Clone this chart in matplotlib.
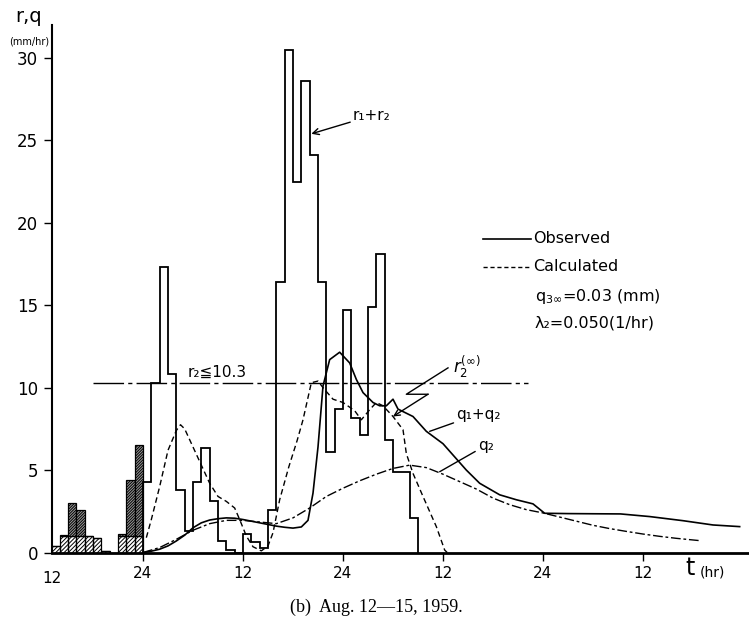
import numpy as np
import matplotlib
matplotlib.use("Agg")
import matplotlib.pyplot as plt
from matplotlib.lines import Line2D

plt.rcParams['hatch.linewidth'] = 0.7
plt.rcParams['font.family'] = ['DejaVu Sans', 'Noto Sans CJK JP']

# time axis: hours counted from Aug 12, 00:00
pre_rain_start = [13, 14, 15, 16, 17, 18, 19, 20, 21, 22, 23]
pre_rain = [0.4, 1.05, 3.0, 2.6, 1.0, 0.9, 0.1, 0.0, 1.1, 4.4, 6.5]
loss_level = 1.0

rain_edges = list(range(24, 58))
rain = [4.3, 10.3, 17.3, 10.8, 3.8, 1.3, 4.25, 6.35, 3.1, 0.7, 0.15, 0.0,
        1.1, 0.65, 0.3, 2.6, 16.4, 30.5, 22.5, 28.6, 24.1, 16.4, 6.1, 8.7,
        14.7, 8.15, 7.1, 14.9, 18.1, 6.8, 4.9, 4.9, 2.1]

calc_total_t = [24.4, 25, 26, 27, 28, 28.5, 29, 30, 31, 32, 33, 34, 35, 35.6, 36.4,
                37.2, 38.2, 39.0, 39.6, 40.4, 41.5, 42.5, 43.2, 44.2, 45.0, 45.6,
                46.8, 48.0, 49.4, 50.2, 51.2, 52.0, 52.8, 54.0, 55.2, 55.6, 56.4,
                57.6, 59.2, 60.2, 60.5]
calc_total = [0.9, 2.0, 4.0, 6.2, 7.4, 7.75, 7.5, 6.4, 5.3, 4.2, 3.4, 3.1, 2.7, 2.0, 1.0,
              0.35, 0.1, 0.4, 1.2, 3.2, 5.2, 6.8, 8.05, 10.3, 10.4, 10.0,
              9.3, 9.1, 8.6, 8.05, 8.66, 9.1, 8.9, 8.25, 7.45, 6.0, 4.8,
              3.4, 1.57, 0.15, 0.0]

obs_total_t = [24, 25, 26, 27, 28, 29, 30, 31, 32, 33, 34, 35, 36, 37, 38, 39, 40,
               41, 42, 43, 43.8, 44.4, 45.0, 45.6, 46.4, 47.6, 48.8, 49.6, 50.4,
               51.6, 52.4, 53.2, 54.0, 54.6, 56.4, 58.0, 60.0, 62.8, 64.4, 66.8,
               68.8, 70.8, 72.2, 75.0, 78.0, 81.3, 84.8, 88.8, 92.4, 95.6]
obs_total = [0.0, 0.08, 0.2, 0.4, 0.7, 1.05, 1.5, 1.8, 1.97, 2.05, 2.1, 2.08, 2.0,
             1.9, 1.8, 1.7, 1.6, 1.53, 1.48, 1.55, 1.95, 3.6, 6.4, 10.1, 11.7,
             12.15, 11.5, 10.5, 9.7, 9.1, 8.9, 8.9, 9.3, 8.7, 8.25, 7.35, 6.6,
             5.0, 4.2, 3.5, 3.2, 2.95, 2.38, 2.36, 2.35, 2.34, 2.18, 1.93, 1.67, 1.57]

calc_q2_t = [24, 26, 28, 30, 32, 34, 36, 38, 40, 42, 44, 46, 48, 50, 52, 54, 56,
             58, 60, 62, 64, 66, 68, 70, 72, 74, 76, 78, 80, 82, 84, 86, 88, 90.8]
calc_q2 = [0.0, 0.3, 0.8, 1.35, 1.75, 1.95, 1.95, 1.85, 1.75, 2.1, 2.7, 3.4, 3.9,
           4.35, 4.75, 5.1, 5.3, 5.15, 4.75, 4.3, 3.85, 3.3, 2.9, 2.6, 2.4, 2.15,
           1.9, 1.65, 1.45, 1.28, 1.12, 0.98, 0.86, 0.72]

r2_limit = 10.3
r2_line_t = [18.0, 70.2]

xtick_hours = [24, 36, 48, 60, 72, 84]
xtick_labels = [str((h - 1) % 24 + 1) for h in xtick_hours]
ytick_vals = [0, 5, 10, 15, 20, 25, 30]

W, H = 749, 623
fig = plt.figure(figsize=(W / 100, H / 100), dpi=100)
ax = fig.add_axes([52 / W, (H - 552.5) / H, (W - 52) / W, (552.5 - 25) / H])
ax.set_xlim(13.08, 96.72)
ax.set_ylim(0, 32)
for s in ['top', 'right']:
    ax.spines[s].set_visible(False)
ax.spines['left'].set_linewidth(1.5)
ax.spines['bottom'].set_linewidth(2.0)

# hatched early rainfall
lower = [min(v, loss_level) for v in pre_rain]
upper = [max(v - loss_level, 0) for v in pre_rain]
ax.bar(pre_rain_start, lower, width=1, align='edge', fill=False, hatch='////////',
       edgecolor='black', linewidth=0.9)
ax.bar(pre_rain_start, upper, bottom=lower, width=1, align='edge', facecolor='#9a9a9a',
       hatch='////////////', edgecolor='black', linewidth=0.9)

# r1 + r2 histogram
ax.stairs(rain, rain_edges, baseline=0, color='black', linewidth=1.3)

# curves
ax.plot(calc_total_t, calc_total, color='black', lw=1.0, ls=(0, (4, 2.5)))
ax.plot(obs_total_t, obs_total, color='black', lw=1.2, ls='-')
ax.plot(calc_q2_t, calc_q2, color='black', lw=1.0, ls=(0, (7, 2, 2, 2)))

# r2 limit line
ax.plot(r2_line_t, [r2_limit, r2_limit], color='black', lw=1.0, ls=(0, (22, 3, 3, 3)))

# ticks
ax.set_yticks(ytick_vals)
ax.set_yticklabels([str(v) for v in ytick_vals], fontsize=12)
ax.set_xticks(xtick_hours)
ax.set_xticklabels(xtick_labels, fontsize=11)
ax.tick_params(axis='both', direction='out', length=6, width=1.0, pad=4)
ax.text(0.0, -0.035, '12', transform=ax.transAxes, ha='center', va='top', fontsize=11)

# annotations
ax.annotate('r\u2081+r\u2082', xy=(44.2, 25.4), xytext=(49.2, 26.5), fontsize=11,
            ha='left', va='center',
            arrowprops=dict(arrowstyle='->', color='black', lw=1.0, shrinkA=0, shrinkB=0))
ax.text(29.4, 10.5, 'r\u2082\u2266' + str(r2_limit), fontsize=11, ha='left', va='bottom')
ax.text(61.2, 11.3, r'$r_2^{(\infty)}$', fontsize=12, ha='left', va='center')
zig_t = [60.6, 55.6, 58.2]
zig_v = [11.2, 9.6, 9.6]
ax.plot(zig_t, zig_v, color='black', lw=1.0)
ax.annotate('', xy=(54.0, 8.25), xytext=(58.2, 9.6),
            arrowprops=dict(arrowstyle='->', color='black', lw=1.0, shrinkA=0, shrinkB=0))
ax.annotate('q\u2081+q\u2082', xy=(58.4, 7.35), xytext=(61.6, 8.4), fontsize=11,
            ha='left', va='center',
            arrowprops=dict(arrowstyle='-', color='black', lw=1.0, shrinkA=0, shrinkB=0))
ax.annotate('q\u2082', xy=(59.6, 4.9), xytext=(64.2, 6.5), fontsize=11,
            ha='left', va='center',
            arrowprops=dict(arrowstyle='-', color='black', lw=1.0, shrinkA=0, shrinkB=0))

# legend-like texts
def fx(x):
    return x / W

def fy(y):
    return 1 - y / H

fig.add_artist(Line2D([fx(483), fx(531)], [fy(238.5), fy(238.5)], color='black', lw=1.2))
fig.text(fx(533), fy(238.5), 'Observed', fontsize=11.5, ha='left', va='center')
fig.add_artist(Line2D([fx(483), fx(531)], [fy(266.5), fy(266.5)], color='black', lw=1.0,
                      ls=(0, (3, 2))))
fig.text(fx(533), fy(266.5), 'Calculated', fontsize=11.5, ha='left', va='center')
fig.text(fx(535), fy(296), r'q$_{3\infty}$=0.03 (mm)', fontsize=11.5, ha='left', va='center')
fig.text(fx(535), fy(323), '\u03bb\u2082=0.050(1/hr)', fontsize=11.5, ha='left', va='center')

# axis labels
fig.text(fx(29), fy(17), 'r,q', fontsize=14, ha='center', va='center')
fig.text(fx(29), fy(42), '(mm/hr)', fontsize=7, ha='center', va='center')
fig.text(fx(690), fy(568), 't', fontsize=17, ha='center', va='center')
fig.text(fx(712), fy(572), '(hr)', fontsize=10, ha='center', va='center')

fig.text(fx(376), fy(607), '(b)  Aug. 12\u201415, 1959.', fontsize=13,
         family='Liberation Serif', ha='center', va='center')

fig.savefig('out.png', dpi=100)
